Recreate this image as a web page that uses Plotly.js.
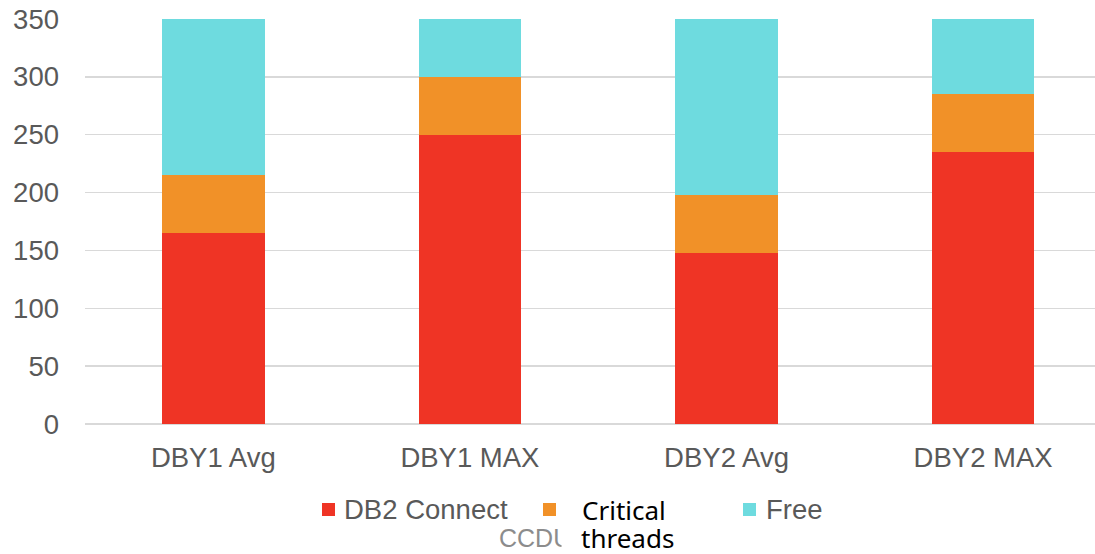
<!DOCTYPE html>
<html>
<head>
<meta charset="utf-8">
<script src="https://cdn.plot.ly/plotly-3.0.1.min.js"></script>
<style>html,body{margin:0;padding:0;background:#fff;}#chart{width:1095px;height:554px;}</style>
</head>
<body>
<div id="chart"></div>
<script>
const categories = ["DBY1 Avg", "DBY1 MAX", "DBY2 Avg", "DBY2 MAX"];
const db2Connect = [165, 250, 148, 235];
const criticalThreads = [50, 50, 50, 50];
const free = [135, 50, 152, 65];
const yTicks = [0, 50, 100, 150, 200, 250, 300, 350];

const colors = {db2: "#EF3425", crit: "#F19128", free: "#6EDBDF"};

const L = 85, T = 19, W = 1095, H = 554, B = 130;
const PW = W - L, PH = H - T - B;
const px = x => (x - L) / PW;
const py = y => (T + PH - y) / PH;

const traces = [
  {type: "bar", name: "DB2 Connect", x: categories, y: db2Connect, marker: {color: colors.db2}},
  {type: "bar", name: "Critical threads", x: categories, y: criticalThreads, marker: {color: colors.crit}},
  {type: "bar", name: "Free", x: categories, y: free, marker: {color: colors.free}}
];

const sq = (x0, y0, c) => ({type: "rect", xref: "paper", yref: "paper",
  x0: px(x0), x1: px(x0 + 13), y0: py(y0 + 13), y1: py(y0), fillcolor: c, line: {width: 0}});

const ann = (text, x, y, font, extra) => Object.assign({text, x: px(x), y: py(y), xref: "paper", yref: "paper",
  xanchor: "left", yanchor: "middle", showarrow: false, font}, extra || {});

const greyFont = {family: "Liberation Sans, Arial, sans-serif", size: 27.5, color: "#595959"};
const blackFont = {family: "Noto Sans, sans-serif", size: 26, color: "#000000"};

const layout = {
  width: W, height: H,
  margin: {l: L, r: 0, t: T, b: B, pad: 0},
  paper_bgcolor: "#ffffff", plot_bgcolor: "#ffffff",
  barmode: "stack", bargap: 0.6,
  showlegend: false,
  font: {family: "Liberation Sans, Arial, sans-serif", size: 27.5, color: "#595959"},
  xaxis: {type: "category", range: [-0.5, 3.436], showgrid: false, showline: false, zeroline: false,
    ticks: "", ticklabelstandoff: 14, tickfont: {size: 27.5, color: "#595959"}, fixedrange: true},
  yaxis: {range: [0, 350], tickvals: yTicks, showgrid: true, gridcolor: "#D9D9D9", gridwidth: 1.3,
    zeroline: true, zerolinecolor: "#D9D9D9", zerolinewidth: 1.3, showline: false, ticks: "",
    ticklabelstandoff: 25, tickfont: {size: 27.5, color: "#595959"}, fixedrange: true},
  shapes: [sq(322, 503, colors.db2), sq(543, 503, colors.crit), sq(743, 503, colors.free)],
  annotations: [
    ann("DB2 Connect", 342, 509, greyFont),
    ann("Critical", 580, 510, blackFont),
    ann("CCDU(", 497, 538, {family: "Liberation Sans Narrow, Arial Narrow, sans-serif", size: 25, color: "#8C8C8C"}),
    ann("&nbsp;", 561, 540, greyFont, {bgcolor: "#ffffff", width: 18, height: 30, borderpad: 0}),
    ann("threads", 579, 538, blackFont),
    ann("Free", 764, 509, greyFont)
  ]
};

Plotly.newPlot("chart", traces, layout, {displayModeBar: false, staticPlot: true});
</script>
</body>
</html>
